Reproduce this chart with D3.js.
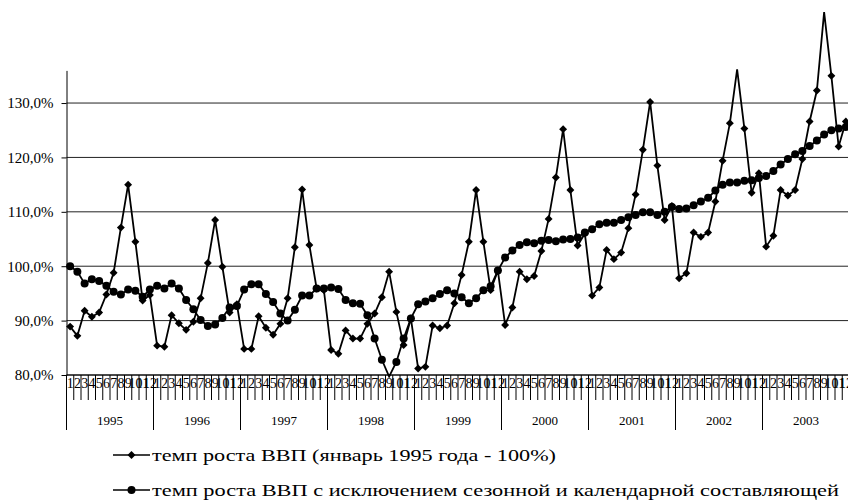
<!DOCTYPE html>
<html>
<head>
<meta charset="utf-8">
<script src="https://cdn.jsdelivr.net/npm/d3@7"></script>
<style>
  body { margin: 0; background: #fff; }
  svg { display: block; font-family: "Liberation Serif", "Times New Roman", serif; }
</style>
</head>
<body>
<div id="svg-container"></div>
<script>
// data
const years = ["1995", "1996", "1997", "1998", "1999", "2000", "2001", "2002", "2003"];
const months = ["1", "2", "3", "4", "5", "6", "7", "8", "9", "10", "11", "12"];
const yTicks = [80, 90, 100, 110, 120, 130];

// темп роста ВВП (январь 1995 года - 100%)
const rawGrowth = [
  88.9, 87.2, 91.8, 90.7, 91.5, 94.8, 98.8, 107.1, 115.0, 104.5, 93.7, 94.7,
  85.4, 85.2, 91.0, 89.5, 88.3, 89.8, 94.1, 100.6, 108.5, 99.9, 91.5, 93.0,
  84.8, 84.8, 90.8, 88.7, 87.4, 89.4, 94.1, 103.5, 114.1, 103.9, 95.9, 95.6,
  84.6, 83.9, 88.2, 86.7, 86.7, 89.4, 91.3, 94.3, 99.0, 91.6, 85.5, 90.4,
  81.2, 81.5, 89.1, 88.6, 89.1, 93.2, 98.4, 104.5, 114.0, 104.5, 95.6, 99.2,
  89.2, 92.4, 99.0, 97.6, 98.2, 102.8, 108.7, 116.3, 125.2, 114.0, 103.8, 106.0,
  94.6, 96.1, 103.0, 101.3, 102.5, 107.0, 113.2, 121.4, 130.2, 118.5, 108.5, 111.1,
  97.8, 98.7, 106.2, 105.4, 106.2, 111.9, 119.4, 126.3, 136.2, 125.3, 113.5, 117.1,
  103.6, 105.6, 114.0, 113.0, 114.0, 119.7, 126.6, 132.3, 146.7, 135.0, 122.0, 126.6
];

// темп роста ВВП с исключением сезонной и календарной составляющей
const adjGrowth = [
  100.0, 99.0, 96.8, 97.6, 97.3, 96.4, 95.3, 94.8, 95.7, 95.5, 94.4, 95.7,
  96.4, 95.9, 96.8, 95.9, 93.8, 92.1, 90.1, 89.0, 89.3, 90.5, 92.4, 92.7,
  95.7, 96.7, 96.7, 94.9, 93.4, 91.3, 90.0, 92.0, 94.6, 94.6, 95.9, 95.9,
  96.1, 95.8, 93.8, 93.2, 93.1, 91.0, 86.7, 82.8, 79.7, 82.4, 86.7, 90.4,
  93.0, 93.5, 94.1, 94.9, 95.6, 95.0, 94.3, 93.2, 94.1, 95.6, 96.3, 99.2,
  101.6, 102.9, 103.9, 104.4, 104.2, 104.7, 104.8, 104.6, 104.9, 105.0, 105.3, 106.2,
  106.8, 107.7, 108.0, 108.0, 108.5, 109.0, 109.4, 109.9, 109.9, 109.4, 110.0, 110.9,
  110.5, 110.6, 111.2, 111.9, 112.6, 113.9, 115.0, 115.4, 115.4, 115.7, 115.8, 116.2,
  116.6, 117.5, 118.7, 119.7, 120.6, 121.2, 122.1, 123.1, 124.2, 125.0, 125.3, 125.6
];

const legendLabels = [
  "темп роста ВВП (январь 1995 года - 100%)",
  "темп роста ВВП с исключением сезонной и календарной составляющей"
];

////////////////////////////  Init  ///////////////////////////////
const width = 848;
const height = 500;
const margin = { top: 70.4, right: -1.5, bottom: 125, left: 66.5 };
const yMin = 80;
const yMax = 136;

const svg = d3.select("#svg-container").append("svg")
  .attr("width", width)
  .attr("height", height);

const keys = [];
years.forEach((yr) => months.forEach((m) => keys.push(yr + "-" + m)));

const x = d3.scaleBand()
  .domain(keys)
  .range([margin.left, width - margin.right]);

const xYear = d3.scaleBand()
  .domain(years)
  .range([margin.left, width - margin.right]);

const y = d3.scaleLinear()
  .domain([yMin, yMax])
  .range([height - margin.bottom, margin.top]);

const xc = (i) => x(keys[i]) + x.bandwidth() / 2;

// grid
svg.append("g")
  .selectAll("line")
  .data(yTicks)
  .join("line")
  .attr("x1", margin.left)
  .attr("x2", width)
  .attr("y1", (d) => y(d))
  .attr("y2", (d) => y(d))
  .attr("stroke", "#222")
  .attr("stroke-width", 1);

// y axis
const yAxis = d3.axisLeft(y)
  .tickValues(yTicks)
  .tickSize(5)
  .tickSizeOuter(0)
  .tickFormat((d) => d3.format(".1f")(d).replace(".", ",") + "%");

svg.append("g")
  .attr("class", "y-axis")
  .attr("transform", `translate(${margin.left}, 0)`)
  .call(yAxis)
  .call((g) => g.select(".domain").attr("stroke", "#000"))
  .call((g) => g.selectAll("text")
    .attr("font-family", "Liberation Serif")
    .attr("font-size", 15)
    .attr("fill", "#000")
    .attr("x", -13));

// month ticks and labels
const baseY = y(yMin);
const monthAxis = svg.append("g").attr("class", "x-axis");

monthAxis.selectAll("line.mtick")
  .data(keys)
  .join("line")
  .attr("class", "mtick")
  .attr("x1", (d) => x(d) + x.bandwidth())
  .attr("x2", (d) => x(d) + x.bandwidth())
  .attr("y1", baseY)
  .attr("y2", baseY + 25)
  .attr("stroke", "#000")
  .attr("stroke-width", 1);

monthAxis.selectAll("text.mlabel")
  .data(keys)
  .join("text")
  .attr("class", "mlabel")
  .attr("x", (d) => x(d) + x.bandwidth() / 2)
  .attr("y", baseY + 13)
  .attr("text-anchor", "middle")
  .attr("font-size", 14)
  .text((d) => d.split("-")[1]);

monthAxis.selectAll("line.ytick")
  .data(years)
  .join("line")
  .attr("class", "ytick")
  .attr("x1", (d) => xYear(d))
  .attr("x2", (d) => xYear(d))
  .attr("y1", baseY)
  .attr("y2", baseY + 55)
  .attr("stroke", "#000")
  .attr("stroke-width", 1);

monthAxis.selectAll("text.ylabel")
  .data(years)
  .join("text")
  .attr("class", "ylabel")
  .attr("x", (d) => xYear(d) + xYear.bandwidth() / 2)
  .attr("y", baseY + 50)
  .attr("text-anchor", "middle")
  .attr("font-size", 13)
  .text((d) => d);

monthAxis.append("line")
  .attr("x1", margin.left)
  .attr("x2", width)
  .attr("y1", baseY)
  .attr("y2", baseY)
  .attr("stroke", "#000");

// lines
const line = d3.line()
  .x((d, i) => xc(i))
  .y((d) => y(d));

const inside = (d) => d >= yMin && d <= yMax;
const diamond = d3.symbol().type(d3.symbolDiamond2).size(40);

svg.append("path")
  .datum(rawGrowth)
  .attr("d", line)
  .attr("fill", "none")
  .attr("stroke", "#000")
  .attr("stroke-width", 1.8);

svg.append("path")
  .datum(adjGrowth)
  .attr("d", line)
  .attr("fill", "none")
  .attr("stroke", "#000")
  .attr("stroke-width", 1.8);

svg.append("g")
  .selectAll("path")
  .data(rawGrowth.map((v, i) => ({ v, i })).filter((d) => inside(d.v)))
  .join("path")
  .attr("d", diamond)
  .attr("transform", (d) => `translate(${xc(d.i)}, ${y(d.v)})`)
  .attr("fill", "#000");

svg.append("g")
  .selectAll("circle")
  .data(adjGrowth.map((v, i) => ({ v, i })).filter((d) => inside(d.v)))
  .join("circle")
  .attr("cx", (d) => xc(d.i))
  .attr("cy", (d) => y(d.v))
  .attr("r", 4)
  .attr("fill", "#000");

// legend
const legend = svg.append("g").attr("class", "legend");
const legendY = [455, 490];
const legendWidths = [404, 687];

legendLabels.forEach((label, i) => {
  const g = legend.append("g").attr("transform", `translate(113, ${legendY[i]})`);
  g.append("line")
    .attr("x1", 0)
    .attr("x2", 37)
    .attr("stroke", "#000")
    .attr("stroke-width", 1.6);
  if (i === 0) {
    g.append("path").attr("d", diamond).attr("transform", "translate(18.5,0)");
  } else {
    g.append("circle").attr("cx", 18.5).attr("r", 4);
  }
  g.append("text")
    .attr("x", 39)
    .attr("y", 6)
    .attr("font-size", 17)
    .attr("textLength", legendWidths[i])
    .attr("lengthAdjust", "spacingAndGlyphs")
    .text(label);
});
</script>
</body>
</html>
